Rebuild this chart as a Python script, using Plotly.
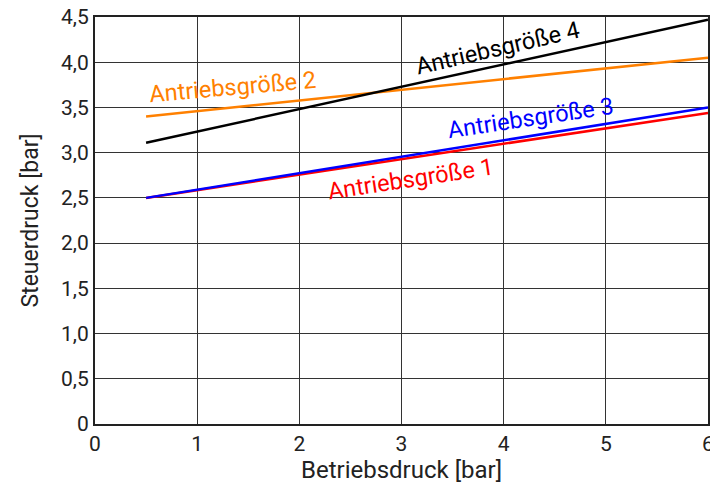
import plotly.graph_objects as go

x_vals = [0.5, 6.0]
ag1 = [2.50, 3.44]
ag2 = [3.40, 4.05]
ag3 = [2.50, 3.50]
ag4 = [3.11, 4.47]

series = [
    ("Antriebsgröße 1", ag1, "#ff0000"),
    ("Antriebsgröße 2", ag2, "#ff8000"),
    ("Antriebsgröße 3", ag3, "#0000ff"),
    ("Antriebsgröße 4", ag4, "#000000"),
]

x_ticks = [0, 1, 2, 3, 4, 5, 6]
x_ticktext = ["0", "1", "2", "3", "4", "5", "6"]
y_ticks = [0, 0.5, 1.0, 1.5, 2.0, 2.5, 3.0, 3.5, 4.0, 4.5]
y_ticktext = ["0", "0,5", "1,0", "1,5", "2,0", "2,5", "3,0", "3,5", "4,0", "4,5"]

# label positions (data coords) and angles
labels = [
    ("Antriebsgröße 1", 3.09, 2.71, -8.7, "#ff0000"),
    ("Antriebsgröße 2", 1.35, 3.73, -5, "#ff8000"),
    ("Antriebsgröße 3", 4.26, 3.38, -8.5, "#0000ff"),
    ("Antriebsgröße 4", 3.94, 4.16, -13, "#000000"),
]

FONT = "Roboto"

fig = go.Figure()
for name, ys, col in series:
    fig.add_trace(go.Scatter(x=x_vals, y=ys, mode="lines", name=name,
                             line=dict(color=col, width=2.5), showlegend=False))

for text, lx, ly, ang, col in labels:
    fig.add_annotation(x=lx, y=ly, text=text, showarrow=False, textangle=ang,
                       font=dict(family=FONT, size=23.5, color=col))

# page body has an 8px default margin, so the figure is sized to fit the window
fig.update_layout(
    width=710, height=476,
    margin=dict(l=87, r=10, t=9, b=60),
    plot_bgcolor="white", paper_bgcolor="white",
    font=dict(family=FONT, size=20, color="#222222"),
)
fig.update_xaxes(range=[0, 6], tickvals=x_ticks, ticktext=x_ticktext,
                 showgrid=True, gridcolor="#333333", gridwidth=1.3,
                 showline=True, linecolor="#222222", linewidth=2, mirror=True,
                 zeroline=False, ticks="", ticklen=0, automargin=False,
                 ticklabeloverflow="allow",
                 title=dict(text="Betriebsdruck [bar]", standoff=6,
                            font=dict(family=FONT, size=24, color="#222222")),
                 tickfont=dict(family=FONT, size=21, color="#222222"))
fig.update_yaxes(range=[0, 4.5], tickvals=y_ticks, ticktext=y_ticktext,
                 showgrid=True, gridcolor="#333333", gridwidth=1.3,
                 showline=True, linecolor="#222222", linewidth=2, mirror=True,
                 zeroline=False, ticks="", ticklen=0, automargin=False,
                 ticklabeloverflow="allow",
                 title=dict(text="Steuerdruck [bar]", standoff=16,
                            font=dict(family=FONT, size=23, color="#222222")),
                 tickfont=dict(family=FONT, size=21, color="#222222"))

fig.write_html("out.html")
